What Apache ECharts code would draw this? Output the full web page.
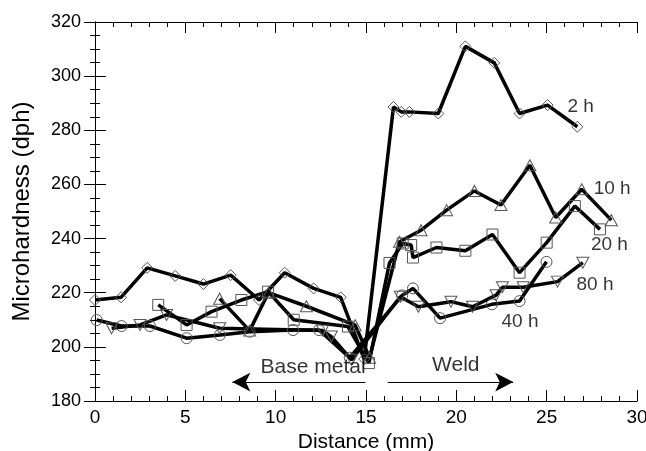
<!DOCTYPE html>
<html>
<head>
<meta charset="utf-8">
<script src="https://cdn.jsdelivr.net/npm/echarts@6/dist/echarts.min.js"></script>
<style>html,body{margin:0;padding:0;background:#fff}#c{width:646px;height:451px}</style>
</head>
<body>
<div id="c"></div>
<script>
// ---- data (distance mm, microhardness dph) ----
const dist2h  = [0, 1.44, 2.89, 4.44, 6.0, 7.51, 9.08, 10.5, 12.1, 13.6, 14.9, 16.52, 16.95, 17.4, 19.0, 20.5, 22.1, 23.5, 25.05, 26.7];
const hard2h  = [217.3, 218.3, 229.2, 226.2, 223.2, 226.5, 217.3, 227.4, 221.6, 218.3, 195.5, 288.6, 286.8, 286.8, 286.2, 311, 304.9, 286.2, 289.3, 281.3];

const dist10h = [6.9, 8.56, 9.6, 11.7, 14.4, 15.2, 16.85, 18.05, 19.46, 21.0, 22.47, 24.07, 25.5, 26.94, 28.58];
const hard10h = [217.8, 206, 220, 215, 208, 196, 238.8, 243.1, 250.5, 257.6, 252.4, 267.1, 247.8, 258.2, 246.8];

const dist20h = [3.5, 5.07, 6.45, 8.1, 9.58, 11.0, 14.0, 15.16, 16.3, 17.03, 17.5, 17.6, 18.9, 20.5, 22.0, 23.5, 25.0, 26.56, 27.95];
const hard20h = [215.5, 208.1, 213, 217.3, 220.4, 210, 207.5, 194, 231, 238.2, 237.6, 233, 236.7, 235.5, 241.5, 227.4, 238.5, 252, 243.4];

const dist40h = [0.09, 1.47, 3.04, 5.07, 6.91, 8.56, 10.96, 12.4, 14.1, 17.0, 17.6, 19.1, 21.97, 23.5, 24.99];
const hard40h = [209.9, 207.7, 207.7, 203.2, 204.4, 205.6, 206.2, 206.2, 196, 219, 221.6, 210.6, 215.7, 216.9, 231.4];

const dist80h = [0.92, 2.49, 3.96, 6.9, 12.6, 13.08, 14.2, 16.9, 17.9, 19.7, 20.9, 22.2, 22.55, 23.7, 25.6, 27.0];
const hard80h = [206.9, 208.1, 211.8, 206.9, 206.0, 203.8, 195.2, 218.5, 214.8, 216.7, 214.8, 219.1, 222, 222, 224.1, 231.1];

// ---- axis ticks ----
const xTicks = [0, 5, 10, 15, 20, 25, 30];
const yTicks = [180, 200, 220, 240, 260, 280, 300, 320];

// ---- text annotations (data coordinates) ----
const seriesLabels = [
  {text: '2 h',  x: 26.15, y: 288.6},
  {text: '10 h', x: 27.6,  y: 258.5},
  {text: '20 h', x: 27.45, y: 237.6},
  {text: '80 h', x: 26.65, y: 222.8},
  {text: '40 h', x: 22.5,  y: 209.1}
];
const regionLabels = [
  {text: 'Base metal', x: 12.07, y: 192.6},
  {text: 'Weld', x: 19.97, y: 193.3}
];
const arrows = [
  {from: [14.97, 187], to: [7.6, 187]},
  {from: [16.2, 187], to: [23.15, 187]}
];

const FONT = '"Liberation Sans", Arial, Helvetica, sans-serif';
const zip = (a, b) => a.map((v, i) => [v, b[i]]);

function lineSeries(name, xs, ys, symbol, size, rotate) {
  return {
    name, type: 'line', data: zip(xs, ys),
    xAxisIndex: 0, yAxisIndex: 0,
    symbol, symbolSize: size, symbolRotate: rotate || 0, showAllSymbol: true,
    lineStyle: {color: '#000', width: 3.5},
    itemStyle: {color: 'rgba(255,255,255,0)', borderColor: '#555', borderWidth: 1},
    emphasis: {disabled: true}, animation: false, z: 3
  };
}

const chart = echarts.init(document.getElementById('c'), null, {renderer: 'canvas'});

const axisCommon = {
  axisLine: {show: true, lineStyle: {color: '#000', width: 1}},
  axisTick: {show: true, inside: true, length: 11, lineStyle: {color: '#000', width: 1}},
  splitLine: {show: false}
};

chart.setOption({
  backgroundColor: '#fff',
  animation: false,
  grid: {left: 95, right: 9, top: 22, bottom: 50, containLabel: false, outerBoundsMode: 'none'},
  xAxis: [
    Object.assign({
      type: 'value', min: xTicks[0], max: xTicks[xTicks.length - 1], interval: 5, position: 'bottom',
      name: 'Distance (mm)', nameLocation: 'middle', nameGap: 27,
      nameTextStyle: {fontFamily: FONT, fontSize: 21, color: '#000'},
      axisLabel: {fontFamily: FONT, fontSize: 19, color: '#000', margin: 7},
      minorTick: {show: true, splitNumber: 5, length: 5, lineStyle: {color: '#000', width: 1}}
    }, axisCommon),
    Object.assign({
      type: 'value', min: xTicks[0], max: xTicks[xTicks.length - 1], interval: 5, position: 'top',
      axisLabel: {show: false},
      minorTick: {show: true, splitNumber: 5, length: 5, lineStyle: {color: '#000', width: 1}}
    }, axisCommon)
  ],
  yAxis: [
    Object.assign({
      type: 'value', min: yTicks[0], max: yTicks[yTicks.length - 1], interval: 20, position: 'left',
      name: 'Microhardness (dph)', nameLocation: 'middle', nameGap: 61, nameRotate: 90,
      nameTextStyle: {fontFamily: FONT, fontSize: 24, color: '#000'},
      axisLabel: {fontFamily: FONT, fontSize: 18, color: '#000', margin: 14},
      minorTick: {show: true, splitNumber: 4, length: 5, lineStyle: {color: '#000', width: 1}}
    }, axisCommon),
    Object.assign({
      type: 'value', min: yTicks[0], max: yTicks[yTicks.length - 1], interval: 20, position: 'right',
      axisLabel: {show: false},
      minorTick: {show: true, splitNumber: 4, length: 5, lineStyle: {color: '#000', width: 1}}
    }, axisCommon)
  ],
  series: [
    lineSeries('2 h', dist2h, hard2h, 'diamond', [11, 11]),
    lineSeries('10 h', dist10h, hard10h, 'triangle', [12, 11]),
    lineSeries('20 h', dist20h, hard20h, 'rect', [11, 11]),
    lineSeries('40 h', dist40h, hard40h, 'circle', 11),
    lineSeries('80 h', dist80h, hard80h, 'triangle', [12, 11], 180),
    {
      name: 'labels', type: 'scatter', symbolSize: 0, silent: true, z: 5,
      data: seriesLabels.map(l => ({name: l.text, value: [l.x, l.y]})),
      label: {show: true, position: 'right', distance: 0, formatter: '{b}',
              fontFamily: FONT, fontSize: 19, color: '#000'}
    },
    {
      name: 'regions', type: 'scatter', symbolSize: 0, silent: true, z: 5,
      data: regionLabels.map(l => ({name: l.text, value: [l.x, l.y]})),
      label: {show: true, position: 'inside', formatter: '{b}',
              fontFamily: FONT, fontSize: 21, color: '#000'},
      markLine: {
        silent: true, animation: false,
        symbol: ['none', 'arrow'], symbolSize: [14, 18],
        label: {show: false},
        lineStyle: {color: '#000', width: 1.2, type: 'solid'},
        data: arrows.map(a => [{coord: a.from}, {coord: a.to}])
      }
    }
  ]
});
</script>
</body>
</html>
